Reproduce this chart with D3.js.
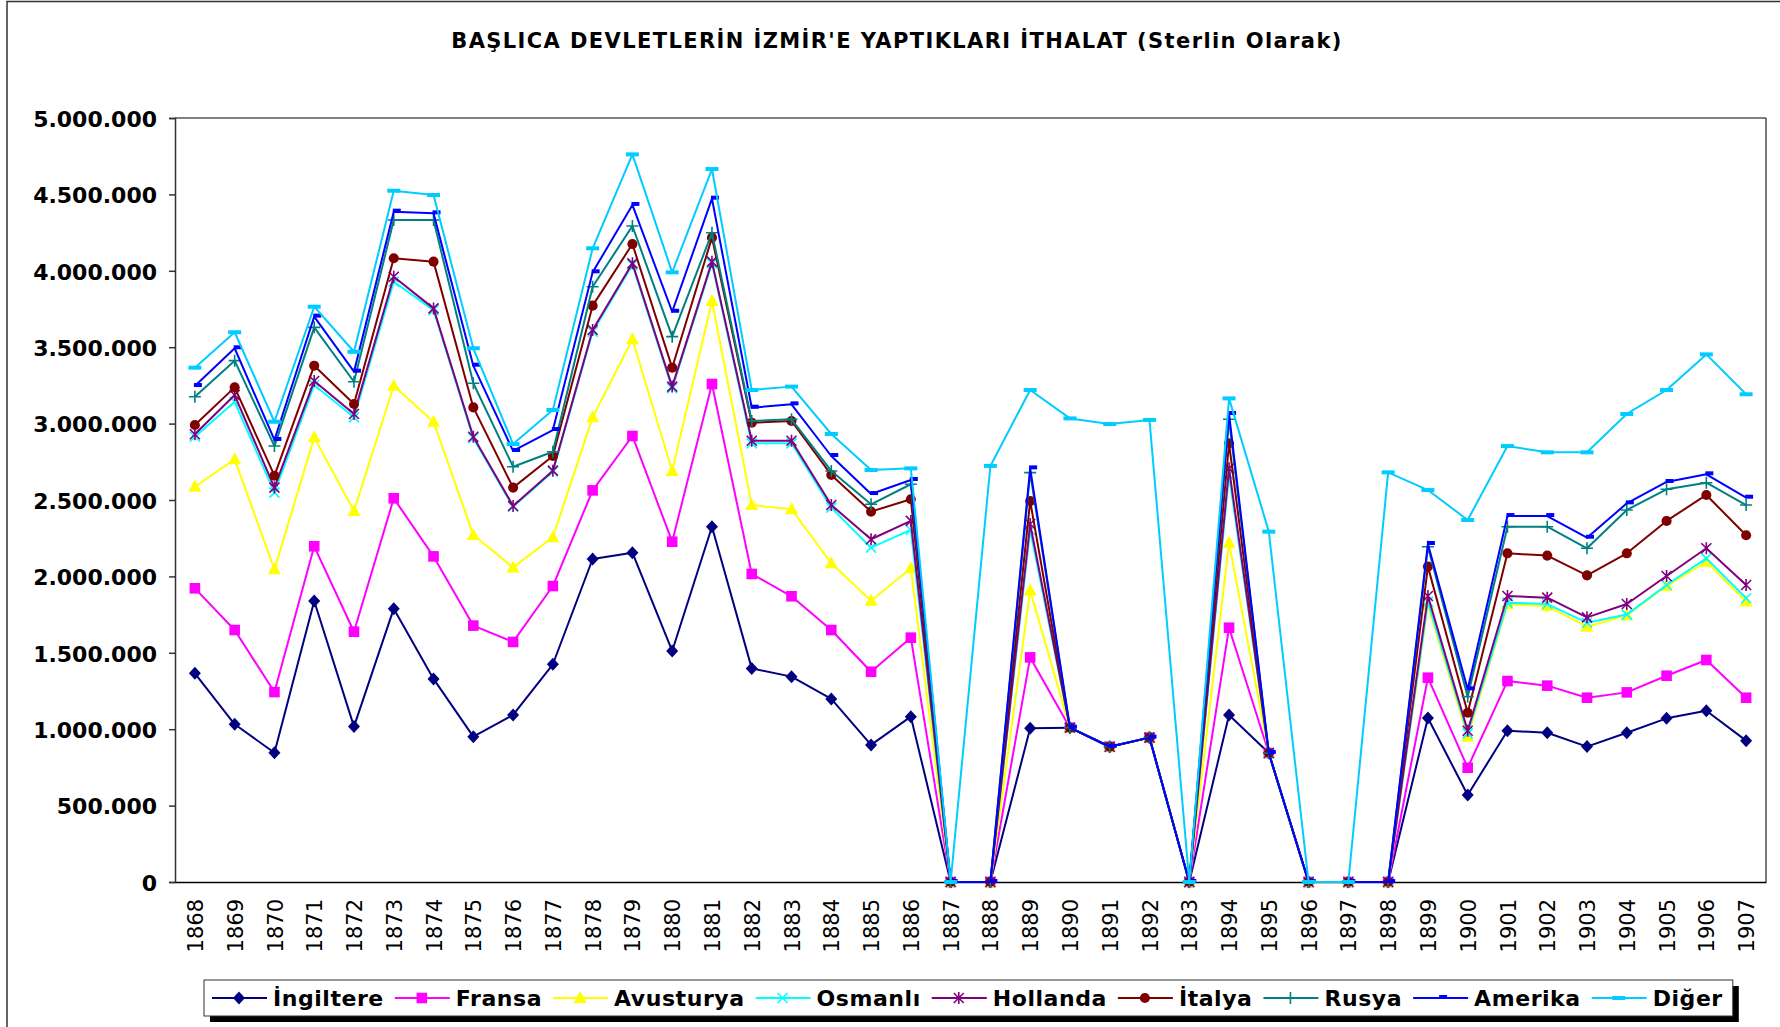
<!DOCTYPE html>
<html>
<head>
<meta charset="utf-8">
<script src="https://cdn.jsdelivr.net/npm/d3@7"></script>
<style>
  html, body { margin: 0; padding: 0; background: #fff; }
  svg { display: block; font-family: "DejaVu Sans", Verdana, sans-serif; }
</style>
</head>
<body>
<svg id="chart" width="1780" height="1027"></svg>
<script>
// years on the category axis
const years = d3.range(1868, 1908);

// imports per country, thousand sterling
const ingiltere = [1366, 1032, 846, 1839, 1017, 1789, 1329, 951, 1093, 1425, 2114, 2155, 1512, 2325, 1398, 1344, 1198, 897, 1082, 0,
  0, 1006, 1010, 885, 945, 0, 1093, 844, 0, 0, 0, 1073, 569, 990, 977, 886, 977, 1071, 1121, 925];
const fransa = [556, 617, 397, 358, 621, 722, 802, 727, 478, 512, 449, 764, 715, 934, 618, 526, 451, 479, 517, 0,
  0, 464, 0, 0, 0, 0, 571, 0, 0, 0, 0, 264, 179, 325, 308, 320, 264, 279, 332, 281];
const avusturya = [665, 1117, 803, 713, 790, 737, 881, 593, 488, 319, 478, 633, 463, 543, 451, 569, 437, 465, 454, 0,
  0, 437, 0, 0, 0, 0, 557, 0, 0, 0, 0, 476, 203, 502, 521, 465, 504, 587, 643, 629];
const osmanli = [327, 377, 502, 343, 613, 681, 731, 633, 397, 429, 560, 486, 541, 247, 404, 432, 364, 347, 251, 0,
  0, 397, 0, 0, 0, 0, 443, 0, 0, 0, 0, 22, 22, 11, 13, 26, 5, 7, 22, 22];
const hollanda = [16, 44, 33, 26, 22, 32, 11, 10, 5, 7, 12, 11, 11, 11, 17, 17, 17, 55, 59, 0,
  0, 39, 0, 0, 0, 0, 43, 0, 0, 0, 0, 37, 17, 44, 42, 35, 69, 59, 66, 87];
const italya = [61, 50, 78, 100, 65, 121, 306, 192, 120, 96, 159, 126, 124, 157, 118, 129, 197, 181, 142, 0,
  0, 150, 0, 0, 0, 0, 164, 0, 0, 0, 0, 192, 118, 279, 275, 275, 332, 360, 349, 325];
const rusya = [185, 175, 194, 251, 146, 250, 272, 158, 137, 28, 124, 118, 203, 32, 11, 11, 26, 48, 98, 0,
  0, 186, 0, 0, 0, 0, 157, 0, 0, 0, 0, 130, 105, 174, 189, 177, 284, 207, 80, 198];
const amerika = [70, 81, 40, 70, 66, 55, 44, 115, 103, 142, 94, 138, 163, 223, 87, 98, 98, 67, 28, 0,
  0, 28, 0, 0, 0, 0, 35, 0, 0, 0, 0, 18, 48, 70, 70, 69, 43, 48, 55, 48];
const diger = [120, 105, 119, 65, 130, 137, 120, 114, 45, 131, 157, 331, 258, 194, 116, 116, 144, 157, 76, 0,
  2723, 513, 2024, 2112, 2079, 0, 102, 1449, 0, 0, 2681, 353, 1108, 458, 417, 559, 585, 602, 785, 677];

const seriesNames = ["İngiltere", "Fransa", "Avusturya", "Osmanlı", "Hollanda", "İtalya", "Rusya", "Amerika", "Diğer"];
const seriesValues = [ingiltere, fransa, avusturya, osmanli, hollanda, italya, rusya, amerika, diger];
const seriesColors = ["#000080", "#FF00FF", "#FFFF00", "#00FFFF", "#800080", "#800000", "#008080", "#0000FF", "#00CCFF"];
const seriesMarkers = ["diamond", "square", "triangle", "x", "star", "circle", "plus", "shortdash", "dash"];

const yTicks = [0, 500000, 1000000, 1500000, 2000000, 2500000, 3000000, 3500000, 4000000, 4500000, 5000000];
const title = "BAŞLICA DEVLETLERİN İZMİR'E YAPTIKLARI İTHALAT (Sterlin Olarak)";

const UNIT = 1000;
const plot = { left: 175, right: 1766, top: 118, bottom: 882 };

const svg = d3.select("#chart");

// outer chart frame (runs off the right/bottom edge like the original)
svg.append("rect")
  .attr("x", 7).attr("y", 1.5)
  .attr("width", 1800).attr("height", 1100)
  .attr("fill", "none").attr("stroke", "#333").attr("stroke-width", 1.5);

svg.append("text")
  .attr("x", 897).attr("y", 48)
  .attr("text-anchor", "middle")
  .attr("font-size", 21).attr("font-weight", "bold")
  .attr("letter-spacing", 1.4)
  .text(title);

const rows = years.map((yr, i) => {
  const r = { year: yr };
  seriesNames.forEach((n, k) => { r[n] = seriesValues[k][i] * UNIT; });
  return r;
});
const stacked = d3.stack().keys(seriesNames)(rows);

const x = d3.scalePoint()
  .domain(years)
  .range([plot.left, plot.right])
  .padding(0.5);

const y = d3.scaleLinear()
  .domain([0, 5000000])
  .range([plot.bottom, plot.top]);

const fmt = d3.formatLocale({ decimal: ",", thousands: ".", grouping: [3], currency: ["", ""] }).format(",");

// plot frame: gray top, dark right
svg.append("line")
  .attr("x1", plot.left).attr("x2", plot.right)
  .attr("y1", plot.top).attr("y2", plot.top)
  .attr("stroke", "#808080").attr("stroke-width", 2);
svg.append("line")
  .attr("x1", plot.right).attr("x2", plot.right)
  .attr("y1", plot.top).attr("y2", plot.bottom)
  .attr("stroke", "#222").attr("stroke-width", 1.2);

const yAxis = svg.append("g")
  .attr("transform", `translate(${plot.left},0)`)
  .call(d3.axisLeft(y).tickValues(yTicks).tickFormat(fmt).tickSizeOuter(0).tickSize(6).tickPadding(12));
yAxis.attr("font-family", null);
yAxis.select(".domain").attr("stroke", "#333").attr("stroke-width", 1.5);
yAxis.selectAll(".tick line").attr("stroke", "#333").attr("stroke-width", 1.5);
yAxis.selectAll(".tick text")
  .attr("font-size", 22).attr("font-weight", "bold").attr("fill", "#000")
  .attr("dy", "0.38em");

const xAxis = svg.append("g")
  .attr("transform", `translate(0,${plot.bottom})`)
  .call(d3.axisBottom(x).tickSize(0).tickSizeOuter(0));
xAxis.attr("font-family", null);
xAxis.select(".domain").attr("stroke", "#000").attr("stroke-width", 1.5);
xAxis.selectAll(".tick text")
  .attr("font-size", 21).attr("fill", "#000")
  .attr("text-anchor", "end")
  .attr("transform", "rotate(-90)")
  .attr("x", -17).attr("y", 0).attr("dy", "0.36em");

function markerPath(type) {
  switch (type) {
    case "diamond": return "M0,-6.5L6,0L0,6.5L-6,0Z";
    case "square": return "M-5.3,-5.3H5.3V5.3H-5.3Z";
    case "triangle": return "M0,-7L6.5,5H-6.5Z";
    case "x": return "M-5,-5L5,5M-5,5L5,-5";
    case "star": return "M-5,-5L5,5M-5,5L5,-5M0,-6V6";
    case "plus": return "M-6,0H6M0,-6V6";
    case "circle": return d3.symbol(d3.symbolCircle, 80)();
    case "shortdash": return "M-1,-3H7V1H-1Z";
    case "dash": return "M-6.5,-2H6.5V2H-6.5Z";
  }
}
const strokeOnly = { x: true, star: true, plus: true };

function drawMarker(g, type, color) {
  g.append("path")
    .attr("d", markerPath(type))
    .attr("fill", strokeOnly[type] ? "none" : color)
    .attr("stroke", strokeOnly[type] ? color : "none")
    .attr("stroke-width", 1.6);
}

const line = d3.line()
  .x(d => x(d.data.year))
  .y(d => y(d[1]));

const layers = svg.append("g");
stacked.forEach((s, k) => {
  const g = layers.append("g");
  g.append("path")
    .datum(s)
    .attr("d", line)
    .attr("fill", "none")
    .attr("stroke", seriesColors[k])
    .attr("stroke-width", 2)
    .attr("stroke-linejoin", "round");
  g.selectAll("g.m")
    .data(s)
    .join("g")
    .attr("class", "m")
    .attr("transform", d => `translate(${x(d.data.year)},${y(d[1])})`)
    .each(function () { drawMarker(d3.select(this), seriesMarkers[k], seriesColors[k]); });
});

// legend
const legend = svg.append("g");
const lgTop = 980, lgBottom = 1016, lgMid = 998;
const shadow = legend.append("rect").attr("fill", "#000");
const box = legend.append("rect").attr("fill", "#fff").attr("stroke", "#333").attr("stroke-width", 1);
let cx = 212;
seriesNames.forEach((n, k) => {
  const it = legend.append("g");
  it.append("line")
    .attr("x1", cx).attr("x2", cx + 55)
    .attr("y1", lgMid).attr("y2", lgMid)
    .attr("stroke", seriesColors[k]).attr("stroke-width", 2);
  const m = it.append("g").attr("transform", `translate(${cx + 27},${lgMid})`);
  drawMarker(m, seriesMarkers[k], seriesColors[k]);
  const t = it.append("text")
    .attr("x", cx + 61).attr("y", lgMid).attr("dy", "0.36em")
    .attr("font-size", 22).attr("font-weight", "bold")
    .attr("letter-spacing", 0.55)
    .text(n);
  cx += 61 + t.node().getComputedTextLength() + 11;
});
const lgLeft = 204, lgRight = cx - 11 + 10;
box.attr("x", lgLeft).attr("y", lgTop).attr("width", lgRight - lgLeft).attr("height", lgBottom - lgTop);
shadow.attr("x", lgLeft + 6).attr("y", lgTop + 6).attr("width", lgRight - lgLeft).attr("height", lgBottom - lgTop);
</script>
</body>
</html>
